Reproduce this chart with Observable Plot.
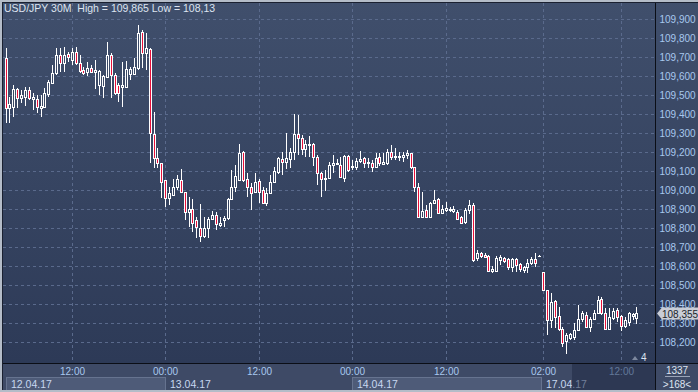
<!DOCTYPE html>
<html><head><meta charset="utf-8">
<script src="https://cdn.jsdelivr.net/npm/d3@7"></script>
<script src="https://cdn.jsdelivr.net/npm/@observablehq/plot@0.6"></script>
<style>
html,body{margin:0;padding:0;background:#3a4866;}
#chart{width:698px;height:392px;overflow:hidden;}
svg text{font-family:"Liberation Sans",Arial,sans-serif;}
</style></head><body><div id="chart"></div>
<script>
const openP = [
109.693,109.430,109.435,109.530,109.483,109.488,109.525,109.477,109.477,109.430,
109.435,109.504,109.561,109.614,109.708,109.666,109.714,109.682,109.724,109.666,
109.630,109.619,109.640,109.619,109.551,109.546,109.593,109.708,109.603,109.551,
109.540,109.540,109.609,109.609,109.640,109.829,109.719,109.740,109.294,109.168,
109.141,109.052,108.958,108.973,109.015,109.052,108.989,108.884,108.900,108.842,
108.800,108.758,108.800,108.847,108.868,108.816,108.842,108.852,108.952,109.015,
109.052,109.199,109.057,109.015,108.989,109.047,109.000,108.931,108.984,109.042,
109.094,109.162,109.147,109.162,109.199,109.294,109.272,109.215,109.236,109.241,
109.173,109.089,109.057,109.063,109.131,109.141,109.131,109.063,109.178,109.120,
109.120,109.152,109.168,109.141,109.141,109.120,109.173,109.136,109.141,109.199,
109.173,109.173,109.173,109.183,109.194,109.120,109.015,108.858,108.895,108.858,
108.931,108.952,108.879,108.895,108.895,108.889,108.884,108.858,108.832,108.895,
108.921,108.643,108.669,108.658,108.653,108.574,108.574,108.632,108.643,108.637,
108.595,108.637,108.611,108.580,108.595,108.616,108.637,108.653,108.569,108.475,
108.317,108.417,108.338,108.270,108.207,108.223,108.228,108.265,108.322,108.343,
108.280,108.322,108.354,108.427,108.354,108.270,108.328,108.370,108.338,108.286,
108.307,108.338,108.328];
const highP = [
109.745,109.488,109.551,109.535,109.525,109.540,109.540,109.509,109.498,109.498,
109.535,109.577,109.656,109.745,109.745,109.750,109.724,109.745,109.750,109.708,
109.645,109.672,109.656,109.682,109.630,109.603,109.777,109.719,109.614,109.561,
109.672,109.677,109.645,109.693,109.866,109.840,109.824,109.745,109.409,109.220,
109.141,109.052,109.015,109.057,109.078,109.110,108.989,108.963,108.952,108.858,
108.926,108.858,108.858,108.889,108.884,108.858,108.863,108.958,109.105,109.131,
109.241,109.204,109.089,109.036,109.089,109.057,109.015,109.010,109.078,109.120,
109.173,109.199,109.299,109.220,109.399,109.393,109.288,109.262,109.283,109.246,
109.183,109.094,109.105,109.147,109.183,109.162,109.173,109.183,109.183,109.157,
109.168,109.204,109.173,109.168,109.157,109.194,109.194,109.194,109.215,109.236,
109.220,109.199,109.199,109.210,109.194,109.120,109.036,108.989,108.921,108.937,
109.000,108.958,108.921,108.937,108.910,108.916,108.895,108.863,108.905,108.947,
108.931,108.685,108.674,108.669,108.658,108.601,108.653,108.658,108.648,108.643,
108.643,108.643,108.616,108.601,108.637,108.648,108.669,108.658,108.569,108.475,
108.459,108.422,108.385,108.280,108.249,108.249,108.301,108.396,108.364,108.359,
108.333,108.370,108.443,108.438,108.380,108.380,108.380,108.380,108.343,108.333,
108.359,108.354,108.385];
const lowP = [
109.351,109.351,109.383,109.430,109.456,109.441,109.472,109.420,109.404,109.383,
109.430,109.488,109.561,109.603,109.619,109.619,109.672,109.656,109.656,109.614,
109.603,109.598,109.614,109.530,109.498,109.483,109.593,109.483,109.498,109.462,
109.435,109.535,109.577,109.603,109.630,109.640,109.630,109.141,109.115,109.115,
108.958,108.910,108.921,108.968,109.000,108.989,108.842,108.805,108.779,108.748,
108.727,108.748,108.748,108.847,108.790,108.805,108.805,108.842,108.947,108.989,
109.052,109.042,108.963,108.895,108.989,108.931,108.926,108.916,108.984,109.036,
109.084,109.078,109.110,109.115,109.157,109.183,109.183,109.173,109.173,109.126,
109.026,108.963,108.994,109.057,109.089,109.131,109.063,109.042,109.094,109.105,
109.105,109.141,109.115,109.115,109.094,109.115,109.126,109.131,109.131,109.157,
109.157,109.152,109.147,109.162,109.110,108.989,108.858,108.858,108.852,108.852,
108.931,108.879,108.879,108.884,108.884,108.879,108.842,108.821,108.821,108.874,
108.622,108.627,108.643,108.648,108.569,108.564,108.569,108.606,108.616,108.580,
108.569,108.569,108.569,108.564,108.564,108.606,108.595,108.648,108.469,108.238,
108.275,108.275,108.259,108.175,108.139,108.212,108.212,108.259,108.307,108.275,
108.254,108.317,108.349,108.343,108.265,108.265,108.317,108.307,108.259,108.275,
108.286,108.317,108.296];
const closeP = [
109.430,109.451,109.530,109.483,109.498,109.525,109.483,109.488,109.435,109.441,
109.509,109.567,109.614,109.708,109.666,109.708,109.698,109.724,109.666,109.624,
109.614,109.640,109.619,109.630,109.624,109.598,109.708,109.603,109.509,109.509,
109.551,109.635,109.635,109.645,109.824,109.719,109.745,109.299,109.168,109.141,
109.042,108.958,108.984,109.015,109.057,108.989,108.884,108.900,108.826,108.805,
108.758,108.800,108.847,108.868,108.821,108.826,108.852,108.952,109.015,109.073,
109.194,109.052,109.015,108.984,109.042,108.989,108.931,108.984,109.042,109.099,
109.168,109.147,109.168,109.199,109.294,109.272,109.215,109.241,109.241,109.173,
109.089,109.057,109.063,109.131,109.141,109.136,109.068,109.178,109.105,109.126,
109.152,109.162,109.141,109.147,109.120,109.168,109.141,109.147,109.199,109.173,
109.178,109.178,109.183,109.194,109.120,109.015,108.858,108.889,108.858,108.931,
108.947,108.879,108.900,108.905,108.900,108.900,108.847,108.826,108.895,108.921,
108.632,108.669,108.653,108.648,108.574,108.585,108.643,108.648,108.627,108.595,
108.637,108.606,108.585,108.595,108.616,108.637,108.616,108.653,108.475,108.317,
108.412,108.333,108.270,108.196,108.238,108.244,108.265,108.322,108.354,108.280,
108.322,108.354,108.422,108.354,108.270,108.333,108.364,108.333,108.286,108.317,
108.354,108.349,108.355];

const xTickIdx = [17, 41, 65, 89, 113, 138, 158];
const xTickLabels = ["12:00", "00:00", "12:00", "00:00", "12:00", "02:00", "12:00"];
const dateStarts = [0, 41, 89, 137.5];
const dateLabels = ["12.04.17", "13.04.17", "14.04.17", "17.04.17"];
const yTicks = [108.2,108.3,108.4,108.5,108.6,108.7,108.8,108.9,109.0,109.1,109.2,109.3,109.4,109.5,109.6,109.7,109.8,109.9];
const titleText = "USD/JPY 30M  High = 109,865 Low = 108,13";
const lastPrice = 108.355;
const barCount = 1337;
const footText = ">168<";
const cornerNum = "4";

const RED = "#e8103a", WHITE = "#ffffff", GRID = "#5a6a8c";
const BG_TOP = "#404f6c", BG_BOT = "#2d3a57";
const W = 698, H = 392, mL = 3, mR = 43, mT = 3, mB = 29;
const yDomain = [108.0916, 109.9814];
const bgMix = d3.interpolateRgb(BG_TOP, BG_BOT);
const bgAt = p => bgMix((mT + (yDomain[1] - p) / (yDomain[1] - yDomain[0]) * (H - mT - mB)) / (H - mB));

const candles = openP.map((o, i) => {
  const c = closeP[i];
  return {i, o, h: highP[i], l: lowP[i], c, top: Math.max(o, c), bot: Math.min(o, c), bear: c < o,
          inner: c < o ? RED : bgAt((o + c) / 2)};
});
const bodies = candles.filter(d => d.top - d.bot > 0.008);
const fmt = v => v.toFixed(3).replace(".", ",");

const plot = Plot.plot({
  width: W, height: H, marginLeft: mL, marginRight: mR, marginTop: mT, marginBottom: mB,
  style: {background: "transparent", fontFamily: "Liberation Sans, Arial, sans-serif", fontSize: "10px", color: "#a8c8ee", overflow: "visible"},
  color: {type: "identity"},
  x: {domain: [-0.642, 166.75], round: true, axis: "bottom", ticks: xTickIdx, tickFormat: v => xTickLabels[xTickIdx.indexOf(v)], tickSize: 0, tickPadding: 4, label: null},
  y: {domain: yDomain, round: true, axis: "right", ticks: yTicks, tickFormat: fmt, tickSize: 0, tickPadding: 4, label: null},
  marks: [
    Plot.ruleY(yTicks, {stroke: GRID, strokeDasharray: "3,3"}),
    Plot.ruleX(xTickIdx, {stroke: GRID, strokeDasharray: "3,3"}),
    Plot.ruleX(candles, {x: "i", y1: "h", y2: "l", stroke: WHITE}),
    Plot.ruleX(candles, {x: "i", y1: "top", y2: "bot", insetBottom: -1, stroke: WHITE, strokeWidth: 3}),
    Plot.ruleX(bodies, {x: "i", y1: "top", y2: "bot", insetTop: 1, stroke: "inner", strokeWidth: 1})
  ]
});
document.getElementById("chart").appendChild(plot);

const svg = d3.select(plot);
// pin rules to the pixel grid so the 1px candle interiors stay crisp
svg.selectAll("g[aria-label=rule]").each(function () {
  const ln = this.querySelector("line");
  if (!ln) return;
  const vertical = ln.getAttribute("x1") === ln.getAttribute("x2");
  this.setAttribute("transform", vertical ? "translate(0.5,0)" : "translate(0,0.5)");
  this.setAttribute("shape-rendering", "crispEdges");
});

const xs = plot.scale("x"), ys = plot.scale("y");
const X = d3.scaleLinear(xs.domain, xs.range);
const Y = d3.scaleLinear(ys.domain, ys.range);
const right = W - mR, bottom = H - mB;

const bg = svg.insert("g", ":first-child");
const defs = bg.append("defs");
const grad = defs.append("linearGradient").attr("id", "bgGrad").attr("x1", 0).attr("y1", 0).attr("x2", 0).attr("y2", 1);
grad.append("stop").attr("offset", "0%").attr("stop-color", BG_TOP);
grad.append("stop").attr("offset", "100%").attr("stop-color", BG_BOT);
bg.append("rect").attr("x", 0).attr("y", 0).attr("width", W).attr("height", bottom).attr("fill", "url(#bgGrad)");
bg.append("rect").attr("x", 0).attr("y", bottom).attr("width", W).attr("height", mB).attr("fill", "#3e4a66");
dateStarts.forEach((s, k) => {
  if (k % 2 === 0) {
    const x0 = Math.round(X(s)), x1 = k + 1 < dateStarts.length ? Math.round(X(dateStarts[k + 1])) : right;
    bg.append("rect").attr("x", x0 + 0.5).attr("y", 377.5).attr("width", x1 - x0).attr("height", 13)
      .attr("fill", "#4e5b78").attr("stroke", "#66738f");
  }
});

const fg = svg.append("g").attr("text-anchor", "start");
dateStarts.forEach((s, k) => {
  fg.append("text").attr("x", Math.round(X(s)) + 5).attr("y", 388).attr("fill", "#c8d8f0")
    .attr("text-anchor", "start").attr("font-size", "10.5px").text(dateLabels[k]);
});
fg.append("rect").attr("x", 572).attr("y", bottom + 1).attr("width", right - 572).attr("height", mB - 3)
  .attr("fill", "#1c2640").attr("opacity", 0.5);
fg.append("line").attr("x1", right + 0.5).attr("x2", right + 0.5).attr("y1", 2).attr("y2", H).attr("stroke", "#0b0e16");
fg.append("line").attr("x1", 2).attr("x2", W).attr("y1", bottom + 0.5).attr("y2", bottom + 0.5).attr("stroke", "#0b0e16");
fg.append("rect").attr("x", 0).attr("y", 0).attr("width", W).attr("height", 2).attr("fill", "#b4bcc8");
fg.append("rect").attr("x", 0).attr("y", 0).attr("width", 2).attr("height", H).attr("fill", "#b4bcc8");
fg.append("rect").attr("x", 0).attr("y", H - 2).attr("width", W).attr("height", 2).attr("fill", "#b4bcc8");
fg.append("line").attr("x1", 2).attr("x2", W).attr("y1", 2.5).attr("y2", 2.5).attr("stroke", "#1a2030");
fg.append("line").attr("x1", 2.5).attr("x2", 2.5).attr("y1", 2).attr("y2", H - 2).attr("stroke", "#1a2030");
fg.append("text").attr("x", 4).attr("y", 12).attr("text-anchor", "start").attr("fill", "#dde4f0").attr("font-size", "10.5px").text(titleText);
const py = Math.round(Y(lastPrice)) + 0.5;
fg.append("path").attr("d", `M657,${py} L662,${py - 6} L698,${py - 6} L698,${py + 6} L662,${py + 6} Z`).attr("fill", "#c9cdd6");
fg.append("text").attr("x", 662).attr("y", py + 4).attr("text-anchor", "start").attr("fill", "#1b1f2a").attr("font-size", "10px").text(fmt(lastPrice));
fg.append("path").attr("d", "M632,360 L638,360 L635,356 Z").attr("fill", "#7d889e");
fg.append("text").attr("x", 641).attr("y", 361).attr("text-anchor", "start").attr("fill", "#dde4f0").attr("font-size", "10px").text(cornerNum);
fg.append("text").attr("x", 677).attr("y", 374).attr("text-anchor", "middle").attr("fill", "#dde4f0").attr("font-size", "10px").text(String(barCount));
fg.append("line").attr("x1", 665).attr("x2", 690).attr("y1", 376.5).attr("y2", 376.5).attr("stroke", "#9aa4b8");
fg.append("text").attr("x", 677).attr("y", 388).attr("text-anchor", "middle").attr("fill", "#dde4f0").attr("font-size", "10px").text(footText);
</script></body></html>
